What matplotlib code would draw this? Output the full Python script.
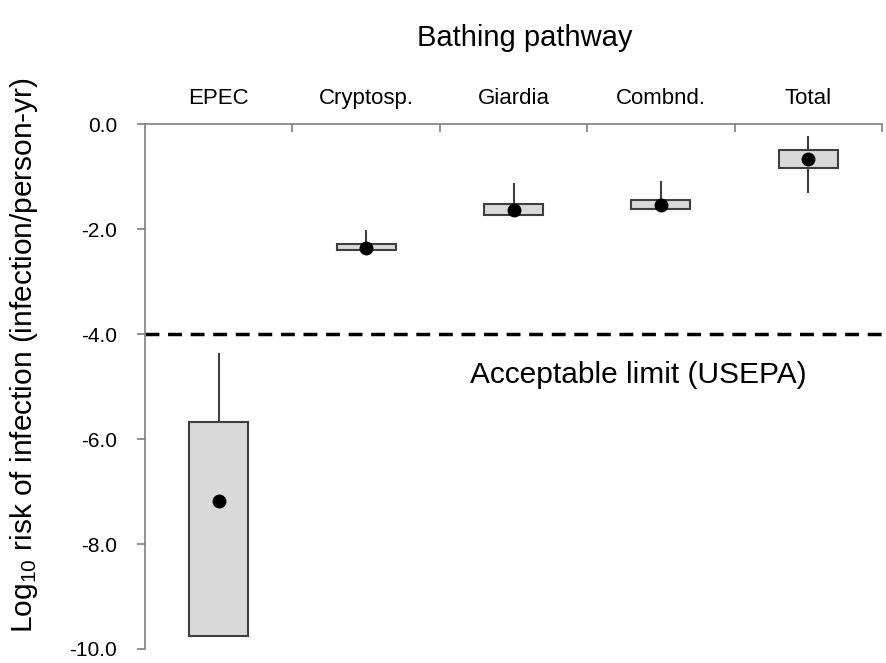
import numpy as np
import matplotlib.pyplot as plt

plt.rcParams['font.family'] = ['Liberation Sans', 'DejaVu Sans']
plt.rcParams['mathtext.fontset'] = 'custom'
plt.rcParams['mathtext.rm'] = 'Liberation Sans'
plt.rcParams['mathtext.it'] = 'Liberation Sans:italic'

# log10 annual infection risk, bathing pathway
pathways = ["EPEC", "Cryptosp.", "Giardia", "Combnd.", "Total"]
box_low = [-9.75, -2.40, -1.72, -1.61, -0.83]
box_high = [-5.68, -2.28, -1.51, -1.44, -0.49]
whisk_high = [-4.35, -2.01, -1.11, -1.08, -0.22]
whisk_low = [np.nan, np.nan, np.nan, np.nan, -1.31]
mean_risk = [-7.17, -2.35, -1.63, -1.54, -0.66]
usepa_limit = -4.0

fig = plt.figure(figsize=(8.86, 6.63), dpi=100)
ax = fig.add_axes([145 / 886, 1 - 649 / 663, (882 - 145) / 886, (649 - 124.3) / 663])

x = np.arange(len(pathways)) + 0.5
edge = "#3f3f3f"

# whiskers first so the boxes cover their ends
ax.vlines(x, box_high, whisk_high, color=edge, lw=1.5, zorder=2)
ax.vlines(x, whisk_low, box_low, color=edge, lw=1.5, zorder=2)
ax.bar(x, np.array(box_high) - np.array(box_low), bottom=box_low, width=0.4,
       color="#d9d9d9", edgecolor=edge, linewidth=1.5, zorder=3)
ax.plot(x, mean_risk, "o", color="black", markersize=9, zorder=4)

ax.axhline(usepa_limit, color="black", lw=2.5, ls=(0, (4, 2.5)), zorder=1)
ax.text(3.35, -4.78, "Acceptable limit (USEPA)", fontsize=21.5, ha="center", va="center")

ax.set_xlim(0, 5)
ax.set_ylim(-10, 0)
ax.set_yticks(np.arange(-10, 0.1, 2))
ax.set_yticklabels([f"{v:.1f}" for v in np.arange(-10, 0.1, 2)], fontsize=15)
ax.tick_params(axis="y", direction="out", length=6, color="#7f7f7f", width=1.2, pad=14)

# category names sit on top, boundary ticks point down into the plot
ax.xaxis.tick_top()
ax.set_xticks(np.arange(1, 6))
ax.set_xticklabels([])
ax.set_xticks(x, minor=True)
ax.set_xticklabels(pathways, minor=True, fontsize=16)
ax.tick_params(axis="x", which="major", direction="in", length=6, color="#7f7f7f", width=1.2)
ax.tick_params(axis="x", which="minor", length=0, pad=11)

for side in ["right", "bottom"]:
    ax.spines[side].set_visible(False)
for side in ["left", "top"]:
    ax.spines[side].set_color("#7f7f7f")
    ax.spines[side].set_linewidth(1.2)

ax.set_ylabel("Log$_{10}$ risk of infection (infection/person-yr)", fontsize=21.5)
ax.yaxis.set_label_coords(-0.142, 0.56)
fig.text(525 / 886, 1 - 38 / 663, "Bathing pathway", fontsize=21, ha="center", va="center")

fig.savefig("out.png", dpi=100)
